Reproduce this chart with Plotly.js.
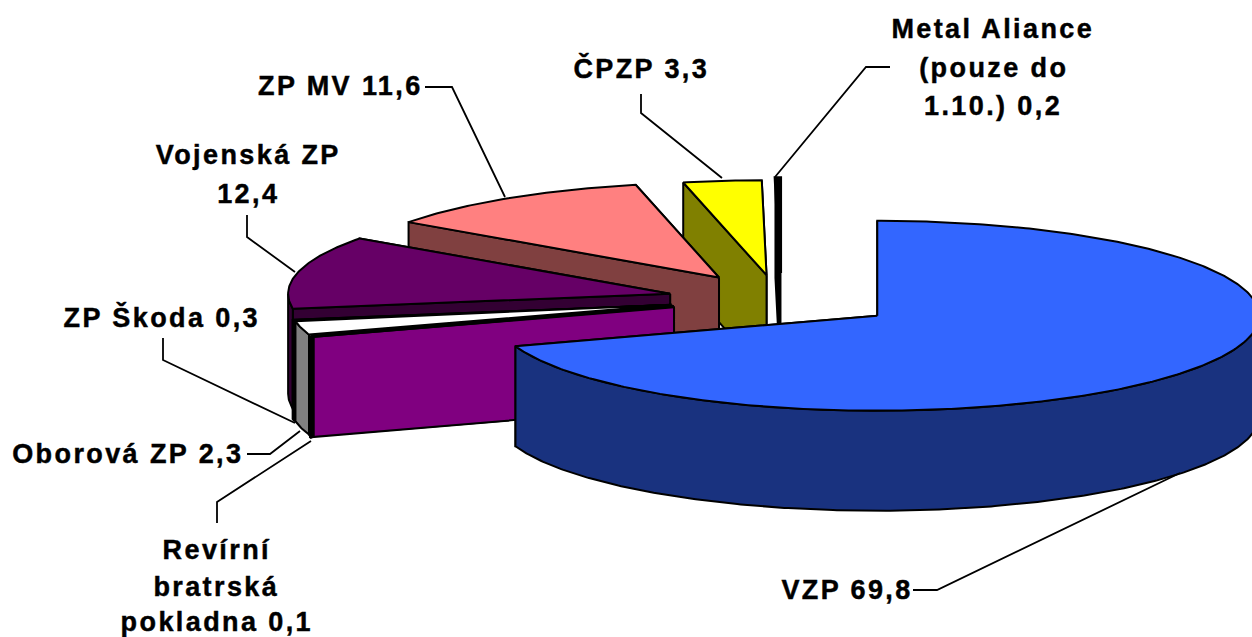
<!DOCTYPE html>
<html><head><meta charset="utf-8">
<script src="https://cdn.plot.ly/plotly-3.0.1.min.js"></script>
<style>
html,body{margin:0;padding:0;background:#fff;overflow:hidden}
.annotation text{letter-spacing:2.4px;stroke:#000;stroke-width:0.45px}
</style></head><body>
<div id="chart" style="width:1252px;height:637px"></div>
<script>
// clockwise from 12 o'clock
const categories = ["VZP","Revírní bratrská pokladna","Oborová ZP","ZP Škoda","Vojenská ZP","ZP MV","ČPZP","Metal Aliance (pouze do 1.10.)"];
const values = [69.8,0.1,2.3,0.3,12.4,11.6,3.3,0.2];
const topColors = ["#3366FF","#FF00FF","#FFFFFF","#000000","#660066","#FF8080","#FFFF00","#000000"];
const sideColors = ["#19327F","#800080","#808080","#000000","#330033","#804040","#808000","#000000"];
const outerColors = ["#19327F","#000000","#808080","#000000","#330033","#804040","#808000","#000000"];
const edgeWidths = [2,3.2,2,1,2,2,2,3.6];
const outerWidths = [2,5,2,1,2,2,2,3.6];
const nudgeX = [0,1,1,1,0,0,-3,-2];
const nudgeY = [0,-2,-2,0,0,0,2,0];
const labelLines = [["VZP 69,8"],["Revírní","bratrská","pokladna 0,1"],["Oborová ZP 2,3"],["ZP Škoda 0,3"],["Vojenská ZP","12,4"],["ZP MV 11,6"],["ČPZP 3,3"],["Metal Aliance","(pouze do","1.10.) 0,2"]];
const labelX = [847,217,127.5,162,248,340,641,993];
const labelY = [[590],[550,587,622],[454],[317],[155,194],[86],[68],[29,68,106]];
const leaderX = [[913,937,1180],[217,217,311],[247,270,300],[163,163,295],[247,247,295],[425,452,505],[641,641,722],[890,866,775]];
const leaderY = [[590,590,473],[523,502,441],[454,454,431],[338,360,423],[215,237,272],[87,87,197],[94,113,178],[67,67,177]];

const CX=783, CY=300, RX=382, RY=95, DEPTH=100, EX=116, EY=27;
const TOTAL=values.reduce((a,b)=>a+b,0);
const rad=p=>p/TOTAL*2*Math.PI;
function arc(tip,a0,a1,dz){
  const n=Math.max(2,Math.ceil((a1-a0)/0.01));
  const xs=[],ys=[];
  for(let i=0;i<=n;i++){const a=a0+(a1-a0)*i/n;
    xs.push(tip[0]+RX*Math.sin(a)); ys.push(tip[1]-RY*Math.cos(a)+dz);}
  return [xs,ys];
}
function poly(x,y,color,name,lw){
  return {type:"scatter",mode:"lines",x:x.concat([x[0]]),y:y.concat([y[0]]),fill:"toself",fillcolor:color,
    line:{color:"#000",width:lw},hoverinfo:"skip",name:name,showlegend:false};
}
const perSlice=[];
let acc=0;
values.forEach((v,i)=>{
  const a0=rad(acc),a1=rad(acc+v),m=(a0+a1)/2; acc+=v;
  const tip=[CX+nudgeX[i]+EX*Math.sin(m),CY+nudgeY[i]-EY*Math.cos(m)];
  const tr=[];
  // radial walls, the farther one first
  [a0,a1].sort((p,q)=>Math.cos(q)-Math.cos(p)).forEach(a=>{
    const ex=tip[0]+RX*Math.sin(a),ey=tip[1]-RY*Math.cos(a);
    tr.push(poly([tip[0],ex,ex,tip[0]],[tip[1],ey,ey+DEPTH,tip[1]+DEPTH],sideColors[i],categories[i],Math.min(edgeWidths[i],2)));
  });
  // outer wall (front half only)
  const s=Math.max(a0,Math.PI/2),e=Math.min(a1,3*Math.PI/2);
  if(e>s){
    const t=arc(tip,s,e,0),b=arc(tip,s,e,DEPTH);
    tr.push(poly(t[0].concat(b[0].slice().reverse()),t[1].concat(b[1].slice().reverse()),outerColors[i],categories[i],outerWidths[i]));
  }
  // top
  const t=arc(tip,a0,a1,0);
  tr.push(poly([tip[0]].concat(t[0]),[tip[1]].concat(t[1]),topColors[i],categories[i],edgeWidths[i]));
  perSlice.push(tr);
});
const traces=[];
for(let i=values.length-1;i>=0;i--) traces.push(...perSlice[i]);
leaderX.forEach((lx,i)=>traces.push({type:"scatter",mode:"lines",x:lx,y:leaderY[i],line:{color:"#000",width:1.8},hoverinfo:"skip",showlegend:false}));
const annotations=[];
labelLines.forEach((ls,i)=>ls.forEach((t,j)=>annotations.push({
  text:t,x:labelX[i],y:labelY[i][j],xref:"x",yref:"y",xanchor:"center",yanchor:"middle",showarrow:false,
  font:{family:"Liberation Sans, Arial, sans-serif",size:27,color:"#000",weight:700}
})));
const hidden={visible:false,fixedrange:true};
Plotly.newPlot("chart",traces,{
  width:1252,height:637,margin:{l:0,r:0,t:0,b:0},paper_bgcolor:"#fff",plot_bgcolor:"#fff",showlegend:false,
  xaxis:Object.assign({range:[0,1252]},hidden),yaxis:Object.assign({range:[637,0]},hidden),annotations
},{staticPlot:true,displayModeBar:false});
</script></body></html>
